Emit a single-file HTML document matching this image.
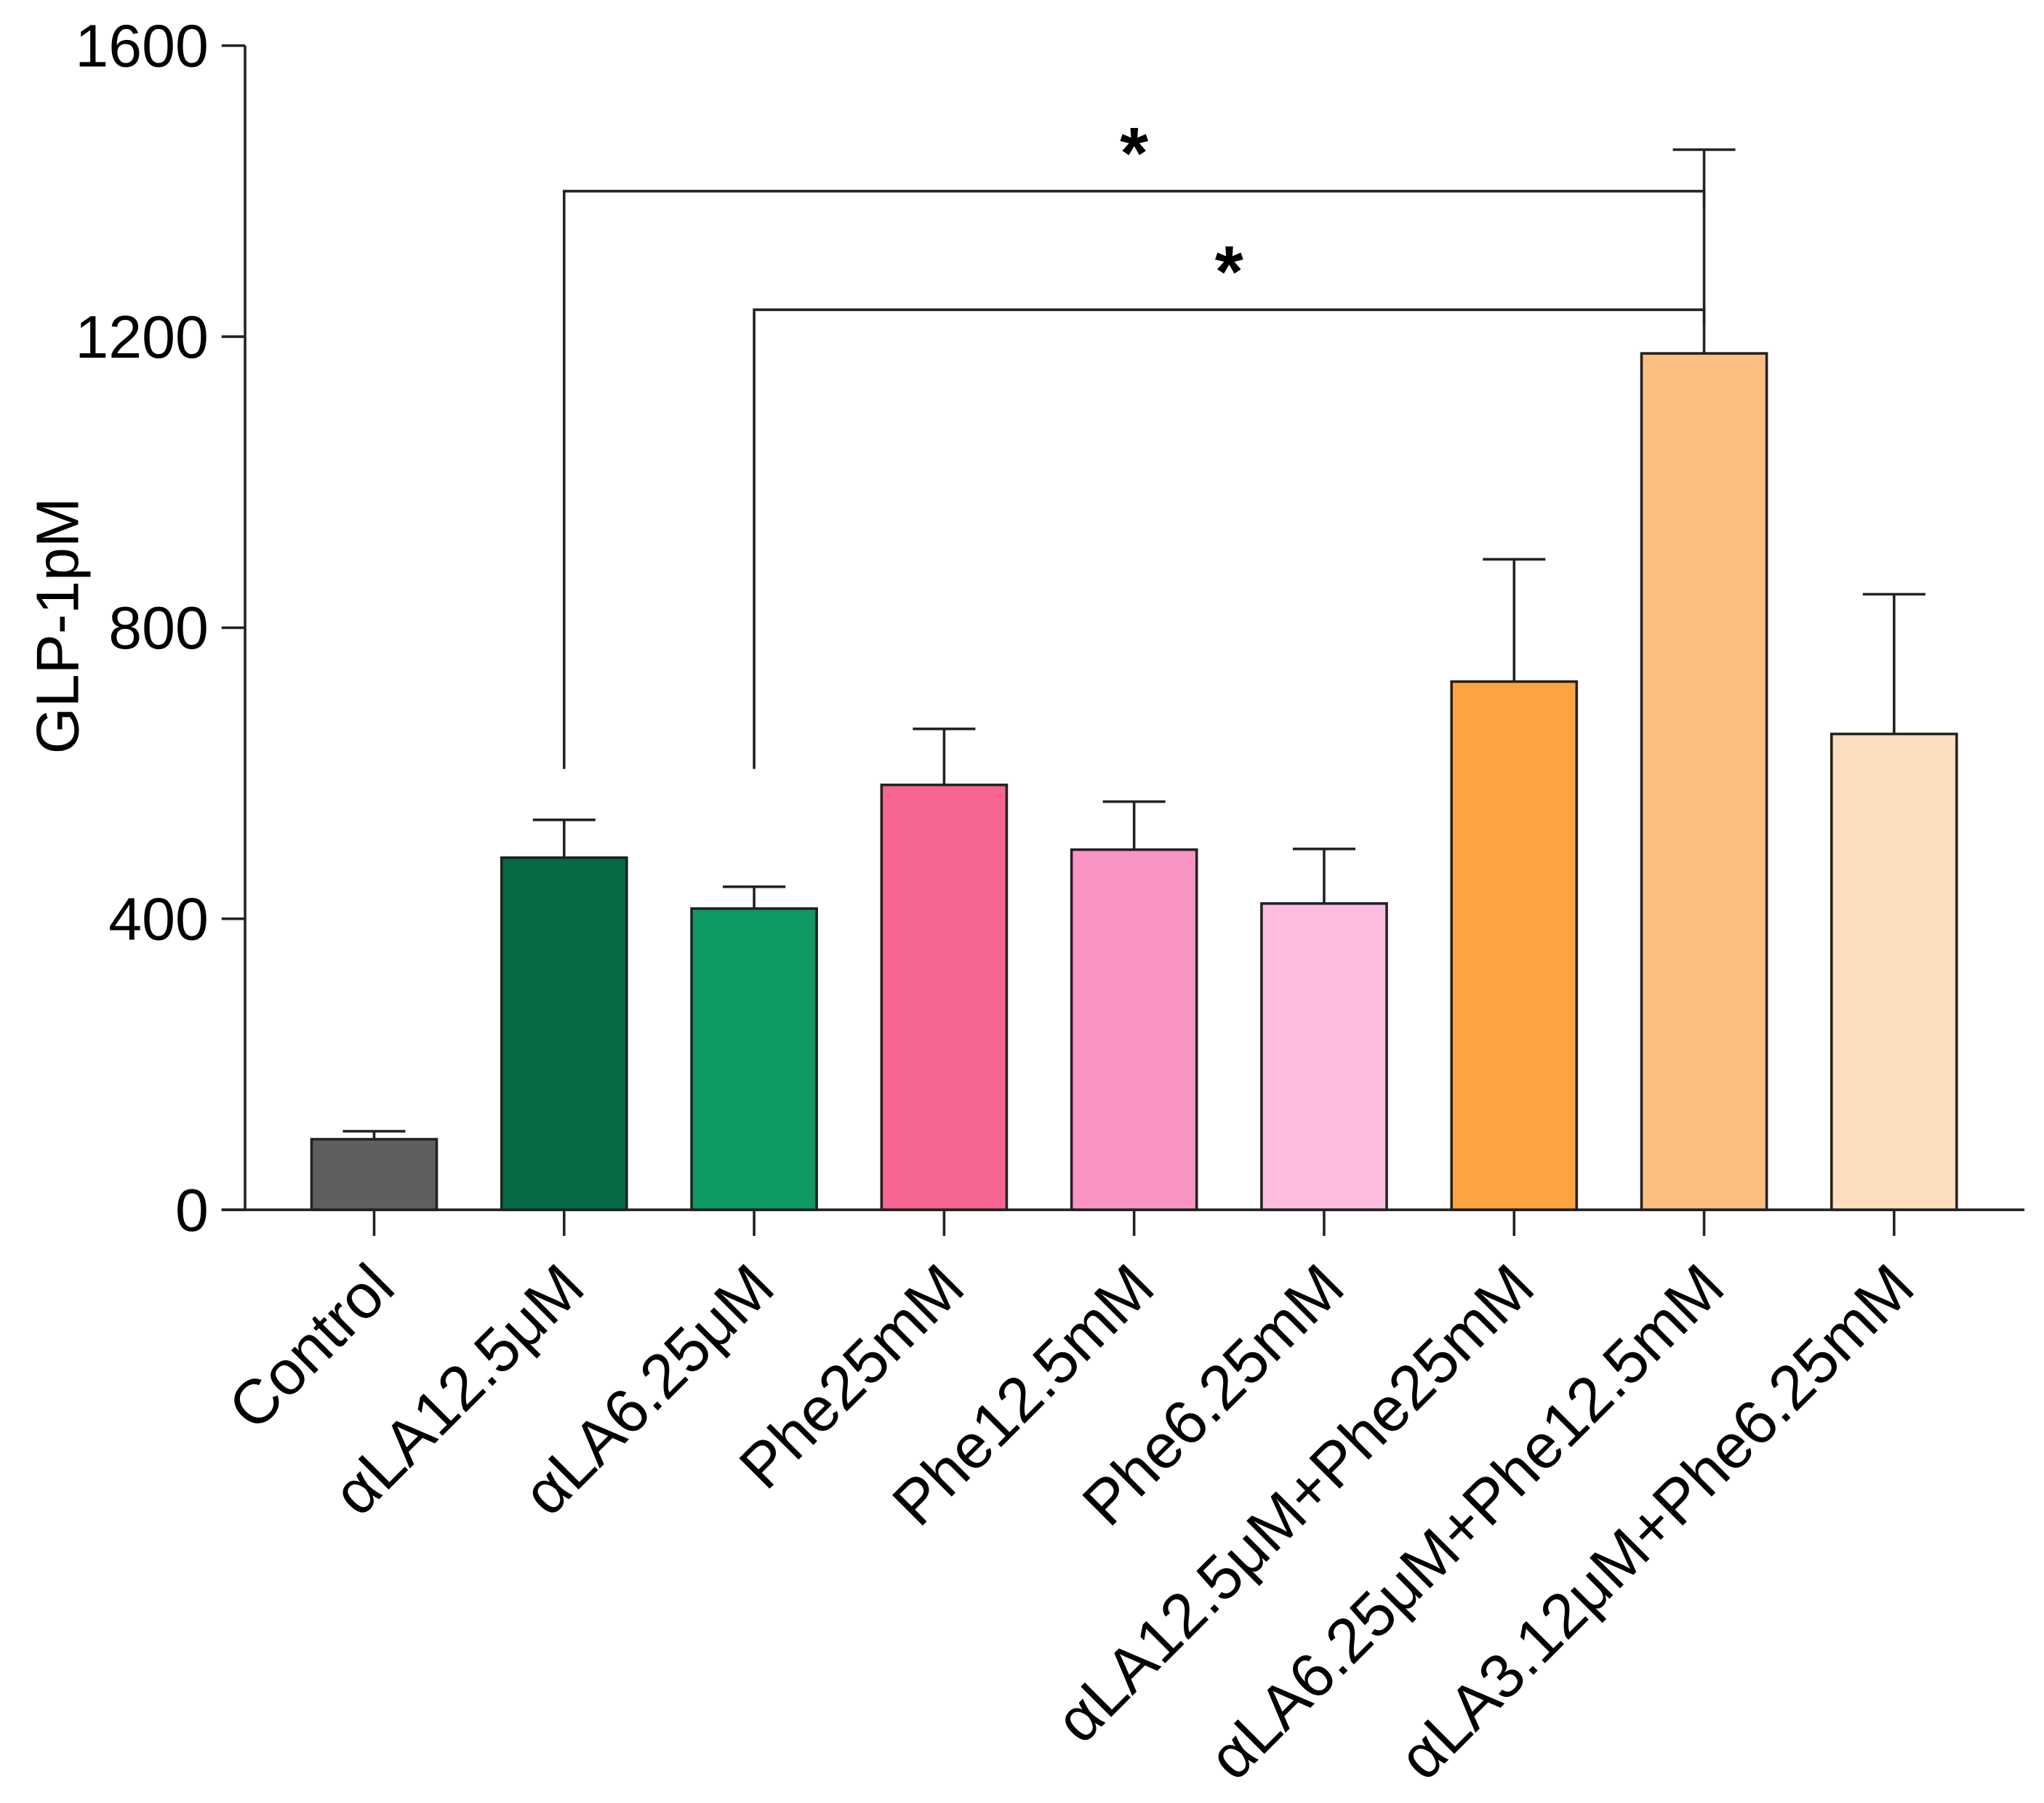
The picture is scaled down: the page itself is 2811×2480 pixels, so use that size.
<!DOCTYPE html>
<html><head><meta charset="utf-8"><style>
html,body{margin:0;padding:0;background:#fff}
svg{display:block}
text{font-family:"Liberation Sans",Arial,sans-serif;fill:#000}
</style></head><body>
<svg id="chart" width="2811" height="2480" viewBox="0 0 1568 1383" preserveAspectRatio="none" xmlns="http://www.w3.org/2000/svg"></svg>
<script>
const categories=["Control","αLA12.5μM","αLA6.25μM","Phe25mM","Phe12.5mM","Phe6.25mM","αLA12.5μM+Phe25mM","αLA6.25μM+Phe12.5mM","αLA3.12μM+Phe6.25mM"];
const means=[97,484,414,584,495,421,726,1177,654];
const errTops=[108,536,444,661,561,496,894,1457,846];
const colors=["#5f5f5f","#066a45","#0e9a62","#f76592","#f794c4","#fdbde0","#fda342","#fdbf80","#fddfbd"];
const yTicks=[0,400,800,1200,1600];
const brackets=[{from:1,to:7,level:1400,drop:606,star:"*"},{from:2,to:7,level:1237,drop:606,star:"*"}];

const svg=document.getElementById('chart');
const NS="http://www.w3.org/2000/svg";
const X0=188,Y0=928,Ytop=35,firstC=287,step=145.75,barW=96;
const yS=v=>Y0-(v/1600)*(Y0-Ytop);
const xS=i=>firstC+i*step;
function mk(tag,attrs,parent){const e=document.createElementNS(NS,tag);for(const k in attrs)e.setAttribute(k,attrs[k]);(parent||svg).appendChild(e);return e;}

const ya=mk('line',{x1:X0,y1:Ytop,x2:X0,y2:Y0,stroke:'#222','stroke-width':2});


yTicks.forEach(t=>{
  const l=mk('line',{x1:170,x2:X0,y1:yS(t),y2:yS(t),stroke:'#222','stroke-width':2});
  
  
  const tx=mk('text',{x:160,y:yS(t)+16,'text-anchor':'end','font-size':46});
  tx.textContent=t;
  
  
});
const yt=mk('text',{x:0,y:0,'text-anchor':'middle','font-size':46,transform:'translate(60,480) rotate(-90)'});
yt.textContent='GLP-1pM';



categories.forEach((c,i)=>{
  const cx=xS(i);
  const e=mk('line',{x1:cx,x2:cx,y1:yS(means[i]),y2:yS(errTops[i]),stroke:'#222','stroke-width':2});
  
  
  const cap=mk('line',{x1:cx-24,x2:cx+24,y1:yS(errTops[i]),y2:yS(errTops[i]),stroke:'#222','stroke-width':2});
  
  
  const r=mk('rect',{x:cx-barW/2,y:yS(means[i]),width:barW,height:Y0-yS(means[i]),fill:colors[i],stroke:'#222','stroke-width':2});
  
  
  const tk=mk('line',{x1:cx,x2:cx,y1:Y0,y2:948,stroke:'#222','stroke-width':2});
  
  
  const lb=mk('text',{x:0,y:0,'text-anchor':'end','font-size':48,transform:`translate(${cx+18},990) rotate(-45)`});
  lb.textContent=c;
  
  
});
const xa=mk('line',{x1:170,x2:1553,y1:Y0,y2:Y0,stroke:'#222','stroke-width':2});



brackets.forEach(b=>{
  const x1=xS(b.from),x2=xS(b.to),yl=yS(b.level);
  const p=mk('polyline',{points:`${x1},${yS(b.drop)} ${x1},${yl} ${x2},${yl} ${x2},${yl+12}`,fill:'none',stroke:'#222','stroke-width':2});
  
  
  const s=mk('text',{x:(x1+x2)/2,y:yl-10,'text-anchor':'middle','font-size':56,'font-weight':'bold'});
  s.textContent=b.star;
  
  
});
</script>
</body></html>
